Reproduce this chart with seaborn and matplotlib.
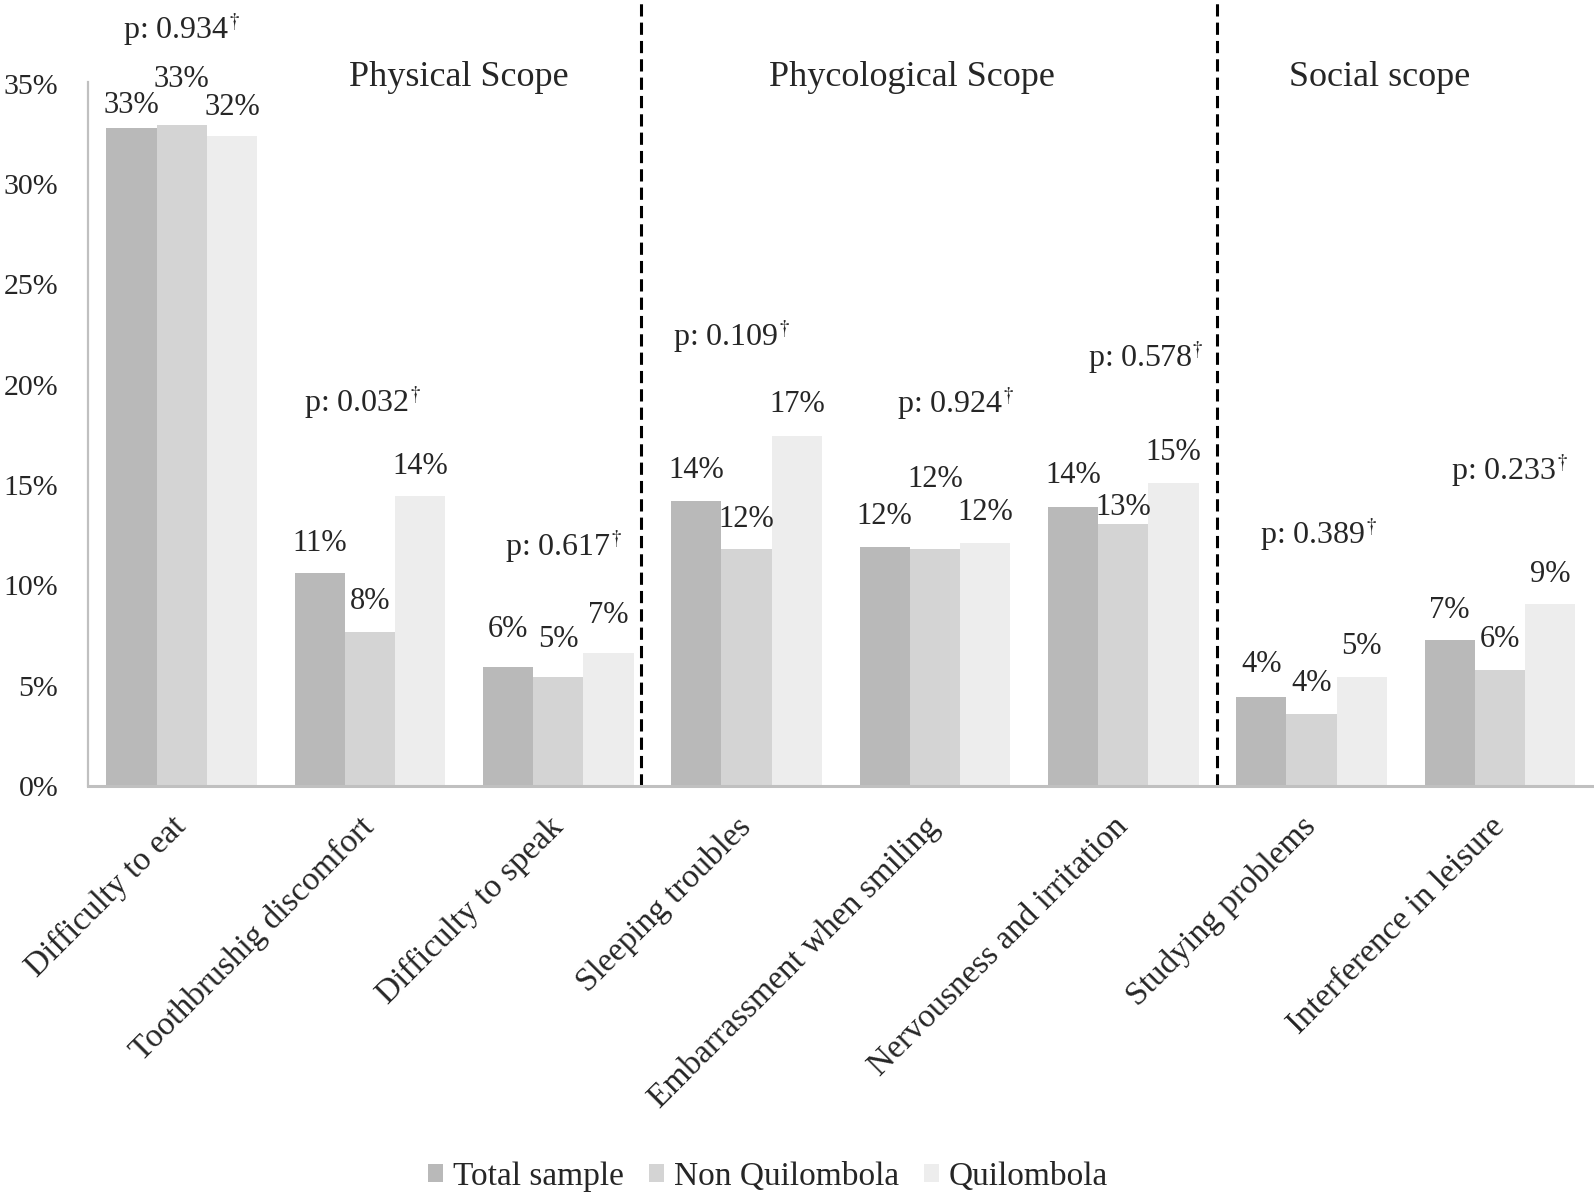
import matplotlib
matplotlib.use("Agg")
import matplotlib.pyplot as plt
import seaborn as sns
import pandas as pd
from matplotlib.ticker import PercentFormatter, MultipleLocator

# ---- data ----
categories = ["Difficulty to eat", "Toothbrushig discomfort", "Difficulty to speak",
              "Sleeping troubles", "Embarrassment when smiling", "Nervousness and irritation",
              "Studying problems", "Interference in leisure"]
series = ["Total sample", "Non Quilombola", "Quilombola"]
total_sample = [32.8, 10.6, 5.95, 14.2, 11.9, 13.9, 4.45, 7.25]
non_quilombola = [32.95, 7.65, 5.45, 11.8, 11.8, 13.05, 3.6, 5.8]
quilombola = [32.4, 14.45, 6.65, 17.45, 12.1, 15.1, 5.45, 9.05]
p_values = ["0.934", "0.032", "0.617", "0.109", "0.924", "0.578", "0.389", "0.233"]
scopes = ["Physical Scope", "Phycological Scope", "Social scope"]

# ---- label placement (style) ----
label_offsets = [
    [1.1, 1.5, 1.85, 1.5, 1.55, 1.55, 1.6, 1.5],
    [2.25, 1.55, 1.85, 1.5, 3.45, 0.85, 1.5, 1.5],
    [1.4, 1.45, 1.85, 1.55, 1.55, 1.5, 1.5, 1.5],
]
p_pos = [(0.0, 37.7), (0.96, 19.14), (2.03, 11.94), (2.92, 22.4),
         (4.11, 19.08), (5.12, 21.36), (6.04, 12.56), (7.05, 15.74)]
scope_pos = [(1.47, 35.3), (3.88, 35.3), (6.36, 35.3)]
divider_x = [2.44, 5.5]

colors = ["#b9b9b9", "#d4d4d4", "#ededed"]

df = pd.DataFrame({
    "category": categories * 3,
    "series": [s for s in series for _ in categories],
    "value": total_sample + non_quilombola + quilombola,
})

sns.set_theme(style="white")
plt.rcParams["font.family"] = ["Liberation Serif", "DejaVu Serif"]
plt.rcParams["mathtext.fontset"] = "stix"

fig = plt.figure(figsize=(15.94, 11.95), dpi=100)
ax = fig.add_axes([0.0549, 0.3423, 0.9451, 0.9316 - 0.3423])

sns.barplot(data=df, x="category", y="value", hue="series", order=categories,
            hue_order=series, palette=colors, saturation=1, width=0.8, gap=0,
            edgecolor="none", linewidth=0, ax=ax, legend=True)

ax.set_xlim(-0.5, 7.5)
ax.set_ylim(0, 35.1)
ax.yaxis.set_major_locator(MultipleLocator(5))
ax.yaxis.set_major_formatter(PercentFormatter(decimals=0))
ax.set_xlabel("")
ax.set_ylabel("")
for s in ["top", "right"]:
    ax.spines[s].set_visible(False)
ax.spines["left"].set_color("#c0c0c0")
ax.spines["left"].set_linewidth(1.6)
ax.spines["bottom"].set_color("#c0c0c0")
ax.spines["bottom"].set_linewidth(2.2)
ax.tick_params(axis="both", length=0)
ax.tick_params(axis="y", labelsize=21.5, pad=21)
ax.tick_params(axis="x", labelsize=24, pad=26)
for lab in ax.get_xticklabels():
    lab.set_rotation(45)
    lab.set_ha("right")
    lab.set_va("center")
    lab.set_rotation_mode("anchor")

# value labels
for si, cont in enumerate(ax.containers):
    for ci, bar in enumerate(cont):
        h = bar.get_height()
        ax.text(bar.get_x() + bar.get_width() / 2, h + label_offsets[si][ci],
                f"{h:.0f}%", ha="center", va="center", fontsize=22)

# p-values
for (x, y), p in zip(p_pos, p_values):
    ax.text(x, y, f"p: {p}" + r"$^{\dagger}$", ha="center", va="center",
            fontsize=23, clip_on=False)

# scope titles
for (x, y), s in zip(scope_pos, scopes):
    ax.text(x, y, s, ha="center", va="center", fontsize=26, clip_on=False)

# dividers
for x in divider_x:
    ax.axvline(x, ymin=0, ymax=1.12, color="black", lw=2.2,
               linestyle=(0, (4, 2)), clip_on=False)

# legend
handles, labels = ax.get_legend_handles_labels()
ax.legend_.remove()
fig.legend(handles, labels, loc="center", bbox_to_anchor=(768 / 1594, 1 - 1177 / 1195),
           ncol=3, frameon=False, fontsize=24, handlelength=0.45, handleheight=0.45,
           handletextpad=0.3, columnspacing=0.75)

fig.savefig("out.png", dpi=100)
